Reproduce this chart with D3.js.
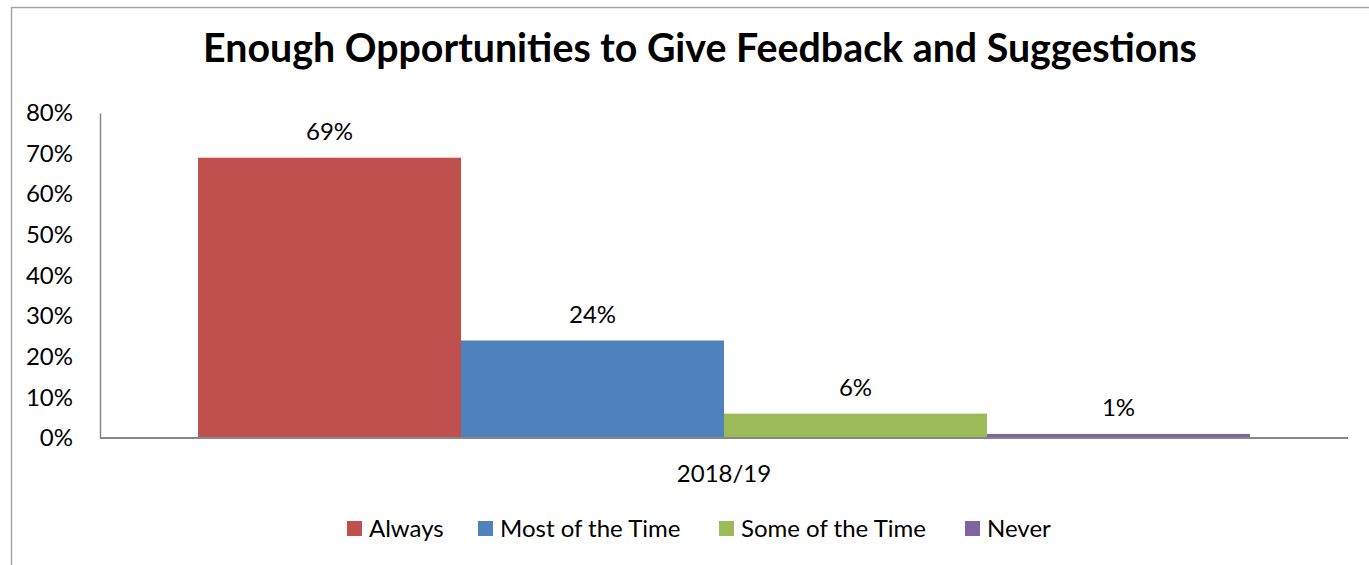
<!DOCTYPE html>
<html>
<head>
<meta charset="utf-8">
<script src="https://cdn.jsdelivr.net/npm/d3@7/dist/d3.min.js"></script>
<style>
  html, body { margin: 0; padding: 0; background: #fff; }
  svg { display: block; }
  text { font-family: Lato, "Open Sans", sans-serif; fill: #000; }
</style>
</head>
<body>
<svg id="chart" width="1369" height="565"></svg>
<script>
// Survey responses for the 2018/19 period
const categories = ["2018/19"];
const seriesNames = ["Always", "Most of the Time", "Some of the Time", "Never"];
const seriesValues = [69, 24, 6, 1];
const seriesColors = ["#C0504D", "#4F81BD", "#9BBB59", "#8064A2"];
const yTicks = [0, 10, 20, 30, 40, 50, 60, 70, 80];
const chartTitle = "Enough Opportunities to Give Feedback and Suggestions";

const svg = d3.select("#chart");
const W = 1369, H = 565;
const plot = { left: 100, right: 1348, top: 113, bottom: 438 };
const labelSize = "24px";

// Outer chart frame (left and top edges visible)
svg.append("path")
  .attr("d", `M11.5,${H} V7.5 H${W}`)
  .attr("fill", "none")
  .attr("stroke", "#a6a6a6")
  .attr("stroke-width", 1.5);

// Title, sized to its target width
const title = svg.append("text")
  .attr("x", 700)
  .attr("y", 62)
  .attr("text-anchor", "middle")
  .style("font-weight", "bold")
  .style("font-size", "36px")
  .text(chartTitle);
{
  const w = title.node().getComputedTextLength();
  title.style("font-size", (36 * 994 / w) + "px");
}

const y = d3.scaleLinear().domain([0, 80]).range([plot.bottom, plot.top]);
const x0 = d3.scaleBand().domain(categories).range([plot.left, plot.right]).paddingInner(0).paddingOuter(0.0932);
const x1 = d3.scaleBand().domain(seriesNames).range([0, x0.bandwidth()]);

// Y axis
const yAxis = svg.append("g")
  .attr("transform", `translate(${plot.left},0)`)
  .call(d3.axisLeft(y).tickValues(yTicks).tickSize(0).tickPadding(27).tickFormat(d => d + "%"));
yAxis.select(".domain").attr("stroke", "#868686").attr("stroke-width", 1.5);
yAxis.selectAll("text").style("font-size", labelSize).style("font-family", "Lato, 'Open Sans', sans-serif").attr("fill", "#000");

// Bars
const rows = seriesNames.map((name, i) => ({ name, value: seriesValues[i], color: seriesColors[i] }));
const group = svg.append("g").attr("transform", `translate(${x0(categories[0])},0)`);
group.selectAll("rect")
  .data(rows)
  .join("rect")
  .attr("x", d => x1(d.name))
  .attr("y", d => y(d.value))
  .attr("width", x1.bandwidth())
  .attr("height", d => y(0) - y(d.value))
  .attr("fill", d => d.color);

// Value labels
group.selectAll("text.val")
  .data(rows)
  .join("text")
  .attr("class", "val")
  .attr("x", d => x1(d.name) + x1.bandwidth() / 2)
  .attr("y", d => y(d.value) - 18)
  .attr("text-anchor", "middle")
  .style("font-size", labelSize)
  .text(d => d.value + "%");

// X axis
const xAxis = svg.append("g")
  .attr("transform", `translate(0,${plot.bottom})`)
  .call(d3.axisBottom(x0).tickSize(0).tickPadding(27));
xAxis.select(".domain").attr("stroke", "#868686").attr("stroke-width", 2).attr("d", `M${plot.left},0H${plot.right}`);
xAxis.selectAll("text").style("font-size", labelSize).style("font-family", "Lato, 'Open Sans', sans-serif").attr("fill", "#000");

// Legend
const legendX = [347, 478, 719, 965];
const legend = svg.append("g");
rows.forEach((d, i) => {
  const g = legend.append("g").attr("transform", `translate(${legendX[i]},528)`);
  g.append("rect").attr("x", 0).attr("y", -7).attr("width", 15).attr("height", 15).attr("fill", d.color);
  g.append("text").attr("x", 22).attr("y", 9).style("font-size", labelSize).text(d.name);
});
</script>
</body>
</html>
